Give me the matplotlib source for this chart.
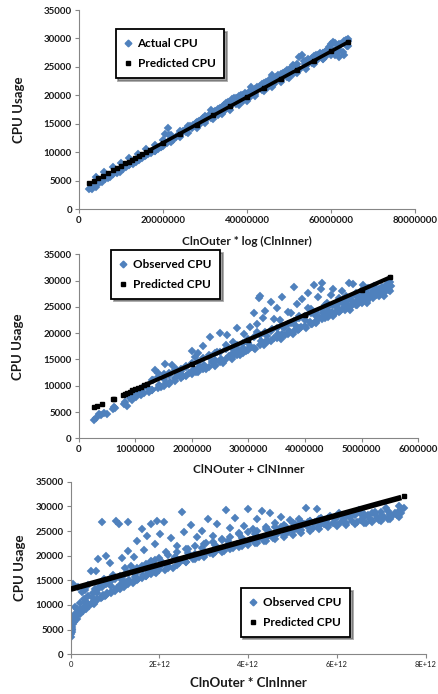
import numpy as np
import matplotlib
matplotlib.use('Agg')
import matplotlib.pyplot as plt

plt.rcParams['font.family'] = ['Lato', 'DejaVu Sans']

# ---- panel 1: CPU vs ClnOuter*log(ClnInner), x in millions ----
obs1X = [2.5, 2.8, 3.2, 3.5, 4.0, 4.5, 5.0, 5.5, 6.2, 6.8, 7.5, 8.2, 9.0, 9.8, 10.5, 11.2, 12.0, 12.8,
         13.5, 14.2, 15.0, 15.8, 16.5, 17.2, 18.0, 18.8, 19.5, 20.0, 20.5, 21.2, 21.5, 22.0, 22.5, 23.0,
         23.6, 24.2, 24.8, 25.5, 26.0, 26.5, 27.2, 27.8, 28.5, 29.0, 29.5, 30.0, 30.5, 31.0, 31.5, 32.0,
         32.5, 33.0, 33.5, 34.0, 34.5, 35.0, 35.5, 36.0, 36.5, 37.0, 37.5, 38.0, 38.5, 39.0, 39.5, 40.0,
         40.5, 41.0, 41.5, 42.0, 42.5, 43.0, 43.5, 44.0, 44.5, 45.0, 45.5, 46.0, 46.5, 47.0, 47.5, 48.0,
         48.5, 49.0, 49.5, 50.0, 50.5, 51.0, 51.5, 52.0, 52.5, 53.0, 53.5, 54.0, 54.5, 55.0, 55.5, 56.0,
         56.5, 57.0, 57.5, 58.0, 58.5, 59.0, 59.5, 60.0, 60.5, 61.0, 61.5, 62.0, 62.5, 63.0, 63.5, 64.0,
         63.8, 62.8, 61.0, 60.0, 58.5, 57.0, 55.5, 54.0, 52.5, 51.0, 49.5, 48.0, 46.5, 45.0, 43.5, 42.0,
         40.5, 39.0, 37.5, 36.0, 34.5, 33.0, 31.5, 30.0, 28.5, 27.0, 25.5, 24.0, 22.5, 21.0, 19.5, 18.0,
         63.0, 62.0, 61.5, 60.5, 59.5, 58.0, 56.0, 53.8, 50.0, 47.0, 44.0, 41.0]
obs1Y = [3500, 3700, 3600, 4000, 3900, 4600, 4800, 4700, 5200, 5500, 5600, 6100, 6300, 6500, 7000, 7400, 7700, 8000,
         8300, 8600, 8900, 9300, 9600, 9800, 10200, 10600, 10900, 11300, 13200, 14200, 13000, 12300, 12500, 12700,
         13000, 13400, 13700, 14000, 14300, 14600, 14800, 15100, 15400, 15700, 16000, 16300, 16200, 16600, 17400, 17000,
         17300, 17600, 17800, 18000, 18300, 18600, 18900, 18800, 19300, 19500, 19600, 19800, 20000, 20100, 20400, 20200,
         20600, 21400, 20900, 21100, 21500, 21700, 21900, 22200, 22400, 22300, 22800, 23500, 23100, 23300, 23600, 23700,
         24000, 24100, 24400, 24500, 24800, 25400, 25100, 25500, 26800, 27100, 26100, 26000, 26300, 26200, 26600, 26900,
         27000, 27000, 27500, 27400, 27600, 28000, 28500, 29000, 29400, 29200, 28100, 28700, 29000, 29500, 29800, 29600,
         28600, 27600, 27000, 27300, 26700, 26300, 25600, 25100, 24400, 23800, 23300, 22700, 22000, 21500, 20900, 20300,
         19600, 19000, 18500, 17900, 17300, 16600, 16000, 15400, 14800, 14200, 13500, 12900, 12200, 11600, 10900, 10400,
         27000, 26800, 27400, 28000, 27800, 26400, 25900, 25500, 24000, 22900, 21700, 20500]
# band of points hugging the fitted line
band1X = [4, 6, 8, 10, 12, 14, 16, 18, 20, 22, 24, 26, 28, 30, 32, 34, 36, 38, 40, 42, 44, 46, 48, 50, 52, 54,
          56, 58, 60, 62, 64]
band1LowY = [4610, 5410, 6220, 7020, 7820, 8630, 9430, 10240, 11040, 11840, 12650, 13450, 14260, 15060, 15860,
             16670, 17470, 18280, 19080, 19880, 20690, 21490, 22300, 23100, 23900, 24710, 25510, 26320, 27120,
             27920, 28730]
band1HighY = [5710, 6510, 7320, 8120, 8920, 9730, 10530, 11340, 12140, 12940, 13750, 14550, 15360, 16160, 16960,
              17770, 18570, 19380, 20180, 20980, 21790, 22590, 23400, 24200, 25000, 25810, 26610, 27420, 28220,
              29020, 29830]
pred1SparseX = [2.5, 3.5, 4.5, 5.6, 6.8, 8.0, 9.0, 10.0, 11.0, 11.8, 12.6, 13.4, 14.2, 15.0, 16.0]
pred1SparseY = [4600, 5000, 5400, 5850, 6330, 6820, 7220, 7620, 8020, 8340, 8670, 8990, 9310, 9630, 10030]
pred1X = [17, 20, 24, 28, 32, 36, 40, 44, 48, 52, 56, 60, 64]
pred1Y = [10430, 11640, 13250, 14860, 16460, 18070, 19680, 21290, 22900, 24500, 26110, 27720, 29330]

# ---- panel 2: CPU vs ClNOuter + ClNInner, x in millions ----
obs2X = [0.27, 0.3, 0.35, 0.4, 0.45, 0.5, 0.6, 0.62, 0.65, 0.8, 0.82, 0.85, 0.9, 0.92, 0.95, 1.0, 1.02, 1.05,
         1.1, 1.12, 1.15, 1.2, 1.25, 1.3, 1.32, 1.35, 1.4, 1.42, 1.45, 1.5, 1.52, 1.55, 1.6, 1.62, 1.65, 1.7,
         1.72, 1.75, 1.8, 1.85, 1.9, 1.95, 2.0, 2.02, 2.05, 2.08, 2.1, 2.15, 2.2, 2.22, 2.25, 2.3, 2.32, 2.35,
         2.4, 2.45, 2.5, 2.52, 2.55, 2.6, 2.62, 2.65, 2.7, 2.72, 2.75, 2.8, 2.82, 2.85, 2.9, 2.92, 2.95, 3.0,
         3.02, 3.05, 3.1, 3.12, 3.15, 3.18, 3.2, 3.22, 3.25, 3.28, 3.3, 3.32, 3.35, 3.4, 3.42, 3.45, 3.5, 3.52,
         3.55, 3.58, 3.6, 3.62, 3.65, 3.7, 3.72, 3.75, 3.78, 3.8, 3.82, 3.85, 3.88, 3.9, 3.92, 3.95, 4.0, 4.02,
         4.05, 4.08, 4.1, 4.12, 4.15, 4.18, 4.2, 4.22, 4.25, 4.28, 4.3, 4.32, 4.35, 4.38, 4.4, 4.42, 4.45, 4.48,
         4.5, 4.52, 4.55, 4.58, 4.6, 4.62, 4.65, 4.68, 4.7, 4.72, 4.75, 4.78, 4.8, 4.82, 4.85, 4.88, 4.9, 4.92,
         4.95, 4.98, 5.0, 5.02, 5.05, 5.08, 5.1, 5.12, 5.15, 5.2, 5.22, 5.25, 5.3, 5.32, 5.35, 5.4, 5.42, 5.45,
         5.48, 5.5, 5.52,
         2.1, 2.4, 2.7, 3.0, 3.3, 3.6, 3.9, 4.2, 4.5, 4.8, 5.1, 5.4, 3.15, 3.45, 3.75, 4.05, 4.35, 4.65, 4.95, 5.25]
obs2Y = [3500, 3800, 4700, 4400, 4900, 4600, 5500, 6000, 5700, 6500, 7000, 6200, 7600, 8000, 7200, 8400, 7800, 9000,
         8200, 9600, 8600, 9800, 8800, 9200, 11000, 13000, 12500, 10200, 9800, 11200, 14200, 10500, 12000, 10800, 14000, 11500,
         13200, 12000, 12800, 11800, 13500, 12400, 16600, 13000, 15500, 12700, 16200, 13600, 17500, 14000, 13200, 15800, 19200, 14500,
         13800, 16500, 20000, 15000, 14400, 17800, 19600, 15600, 15000, 18400, 16200, 21000, 16800, 15800, 17200, 19800, 16600, 18200,
         21200, 17300, 23800, 17000, 20200, 26600, 27000, 18600, 22800, 17800, 24200, 19400, 18600, 26000, 20800, 19000, 24800, 19800,
         22500, 18800, 26800, 21000, 19600, 24000, 20400, 22000, 19800, 28800, 21500, 25600, 20600, 23200, 21200, 26500, 22500, 21000,
         27600, 22200, 24600, 21800, 29200, 23400, 22400, 26800, 23000, 28400, 29600, 23800, 22800, 25800, 24200, 23400, 27200, 24000,
         28400, 23800, 25200, 24600, 26600, 24200, 28000, 25000, 24600, 27000, 25400, 29600, 25000, 26200, 29400, 25800, 27600, 25400,
         26400, 28000, 26000, 29200, 26600, 27400, 26400, 28600, 26800, 27600, 29000, 27200, 28000, 27400, 28800, 27800, 28400, 29400,
         28200, 29700, 28900,
         13400, 14800, 16000, 17000, 18400, 19800, 21000, 22000, 23200, 24400, 25800, 27000, 21800, 22600, 23800, 24800, 25400, 26000, 27000, 28000]
# dense lower band of the cloud
band2X = [1.3, 1.4, 1.5, 1.6, 1.7, 1.8, 1.9, 2.0, 2.1, 2.2, 2.3, 2.4, 2.5, 2.6, 2.7, 2.8, 2.9, 3.0, 3.1, 3.2, 3.3,
          3.4, 3.5, 3.6, 3.7, 3.8, 3.9, 4.0, 4.1, 4.2, 4.3, 4.4, 4.5, 4.6, 4.7, 4.8, 4.9, 5.0, 5.1, 5.2, 5.3, 5.4, 5.5]
band2LowY = [9100, 9500, 10000, 10400, 10900, 11400, 11800, 12200, 12700, 13200, 13600, 14000, 14500, 15000, 15400,
             15900, 16300, 16800, 17200, 17700, 18100, 18600, 19000, 19500, 19900, 20400, 20800, 21300, 21700, 22200,
             22600, 23100, 23500, 24000, 24400, 24900, 25300, 25800, 26200, 26700, 27100, 27600, 28000]
band2HighY = [11000, 11600, 12200, 12400, 13000, 13200, 13800, 14400, 14600, 15200, 15400, 16200, 16400, 17000, 17200,
              17800, 18200, 18800, 19200, 19600, 20200, 20400, 21000, 21400, 21800, 22400, 22800, 23200, 23800, 24000,
              24600, 25000, 25400, 25800, 26200, 26600, 27000, 27200, 27600, 28000, 28400, 28600, 29000]
pred2SparseX = [0.27, 0.33, 0.42, 0.6, 0.62, 0.78, 0.82, 0.86, 0.9, 0.95, 1.0, 1.05, 1.1, 1.15]
pred2SparseY = [5900, 6180, 6600, 7450, 7550, 8300, 8490, 8680, 8870, 9110, 9340, 9580, 9820, 10050]
pred2X = [1.2, 2.0, 3.0, 4.0, 5.0, 5.5]
pred2Y = [10290, 14070, 18790, 23510, 28240, 30600]

# ---- panel 3: CPU vs ClnOuter*ClnInner, x in units of 1E+12 ----
obs3X = [0.0, 0.01, 0.02, 0.03, 0.04, 0.05, 0.06, 0.07, 0.08, 0.1, 0.12, 0.14, 0.16, 0.18, 0.2, 0.22, 0.25, 0.28,
         0.3, 0.32, 0.35, 0.38, 0.4, 0.42, 0.45, 0.48, 0.5, 0.52, 0.55, 0.58, 0.6, 0.62, 0.65, 0.68, 0.7, 0.72,
         0.75, 0.78, 0.8, 0.82, 0.85, 0.88, 0.9, 0.95, 1.0, 1.02, 1.05, 1.08, 1.1, 1.12, 1.15, 1.2, 1.22, 1.25,
         1.28, 1.3, 1.32, 1.35, 1.4, 1.42, 1.45, 1.5, 1.52, 1.55, 1.6, 1.62, 1.65, 1.7, 1.72, 1.75, 1.8, 1.82,
         1.85, 1.9, 1.92, 1.95, 2.0, 2.02, 2.05, 2.1, 2.12, 2.15, 2.2, 2.25, 2.3, 2.35, 2.4, 2.45, 2.5, 2.52,
         2.55, 2.6, 2.65, 2.7, 2.75, 2.8, 2.85, 2.9, 2.95, 3.0, 3.05, 3.1, 3.15, 3.2, 3.25, 3.3, 3.35, 3.4,
         3.45, 3.5, 3.55, 3.6, 3.65, 3.7, 3.75, 3.8, 3.85, 3.9, 3.95, 4.0, 4.05, 4.1, 4.15, 4.2, 4.25, 4.3,
         4.35, 4.4, 4.45, 4.5, 4.55, 4.6, 4.65, 4.7, 4.75, 4.8, 4.85, 4.9, 4.95, 5.0, 5.05, 5.1, 5.15, 5.2,
         5.25, 5.3, 5.35, 5.4, 5.45, 5.5, 5.55, 5.6, 5.65, 5.7, 5.75, 5.8, 5.85, 5.9, 5.95, 6.0, 6.05, 6.1,
         6.15, 6.2, 6.3, 6.35, 6.4, 6.45, 6.5, 6.55, 6.6, 6.65, 6.7, 6.75, 6.8, 6.85, 6.9, 6.95, 7.0, 7.05,
         7.1, 7.15, 7.2, 7.25, 7.3, 7.35, 7.4, 7.45, 7.5,
         0.15, 0.35, 0.6, 0.9, 1.15, 1.45, 1.75, 2.05, 2.35, 2.65, 2.95, 3.25, 3.55, 3.85, 4.15, 4.45, 4.75,
         5.05, 5.35, 5.65, 5.95, 6.25, 6.55, 6.85, 7.15, 0.02, 0.04, 0.09]
obs3Y = [3500, 4200, 5000, 4600, 5600, 6200, 14300, 7000, 6600, 7600, 8000, 7200, 13600, 8600, 8200, 9000, 12600, 8800,
         9400, 13000, 9200, 10000, 14000, 9800, 16800, 10400, 11500, 10200, 13200, 16800, 11000, 19400, 13800, 11400, 26900, 12000,
         15200, 11800, 20000, 12400, 14400, 18600, 12600, 16000, 13000, 27000, 13400, 26500, 15800, 14000, 19600, 13600, 17400, 14600,
         21000, 26800, 15000, 18000, 14400, 19800, 15600, 23000, 15200, 17000, 25500, 16000, 21200, 15800, 24000, 16800, 19000, 26400,
         17200, 22400, 16400, 27000, 17800, 24400, 18400, 26800, 17000, 20800, 18000, 23600, 17600, 19600, 22000, 18600, 28800, 19200,
         24800, 18800, 21400, 26200, 19400, 20400, 23800, 19800, 25000, 20200, 22600, 27400, 20600, 24000, 20800, 26400, 21400, 23200,
         21000, 29200, 22200, 25600, 21600, 27600, 22400, 24600, 22000, 26000, 22800, 29500, 23200, 25400, 22600, 27400, 23600, 29000,
         23000, 25800, 24000, 28600, 23600, 26600, 24400, 25000, 27800, 24200, 25800, 24800, 27200, 25000, 26000, 25400, 27400, 25200,
         26400, 29700, 25800, 27000, 25600, 26800, 29400, 26000, 27600, 26400, 27000, 26200, 28000, 26600, 27400, 26200, 28600, 26800,
         27600, 26600, 27800, 27000, 28400, 26800, 29300, 27200, 27800, 26600, 28200, 27400, 27000, 28400, 27600, 27200, 28000, 27800,
         29700, 27400, 28400, 28000, 28600, 28200, 30100, 28600, 29600,
         9200, 10600, 12400, 13800, 15000, 16200, 17600, 18800, 19800, 20600, 21600, 22200, 23000, 23600, 24400, 25200, 25800,
         26400, 26800, 27200, 27800, 28000, 28400, 28800, 29000, 14000, 5200, 7400]
# dense curved band along the lower edge of the cloud
band3X = [0.1, 0.2, 0.3, 0.4, 0.5, 0.6, 0.7, 0.8, 0.9, 1.0, 1.1, 1.2, 1.3, 1.4, 1.5, 1.6, 1.7, 1.8, 1.9, 2.0, 2.2,
          2.4, 2.6, 2.8, 3.0, 3.2, 3.4, 3.6, 3.8, 4.0, 4.2, 4.4, 4.6, 4.8, 5.0, 5.2, 5.4, 5.6, 5.8, 6.0, 6.2, 6.4,
          6.6, 6.8, 7.0, 7.2, 7.4]
band3LowY = [8200, 9000, 9600, 10200, 10600, 11200, 11600, 12000, 12400, 12800, 13200, 13800, 14200, 14600, 15000,
             15400, 15800, 16200, 16600, 17000, 17600, 18200, 18800, 19400, 19800, 20400, 20800, 21400, 21800, 22200,
             22600, 23000, 23400, 23800, 24200, 24600, 25000, 25400, 25800, 26000, 26200, 26400, 26600, 26800, 27000,
             27400, 27800]
band3HighY = [9500, 10400, 11200, 11800, 12400, 13000, 13600, 14200, 14800, 15200, 15600, 16000, 16400, 17000, 17400,
              18000, 18400, 18800, 19200, 19600, 20200, 20800, 21400, 22000, 22400, 22800, 23400, 23800, 24400, 24800,
              25000, 25400, 25800, 26200, 26600, 26800, 27000, 27400, 27600, 27800, 28000, 28200, 28400, 28600, 28800,
              28200, 29000]
pred3X = [0.0, 1.0, 2.0, 3.0, 4.0, 5.0, 6.0, 7.0, 7.45]
pred3Y = [13200, 15700, 18200, 20700, 23200, 25700, 28200, 30700, 31800]
pred3LastX = [7.52]
pred3LastY = [32100]

blue = '#4F81BD'
axisGray = '#868686'
W, H = 439, 694

fig = plt.figure(figsize=(W / 100, H / 100), dpi=100)


def make_axes(left, top, right, bottom):
    return fig.add_axes([left / W, 1 - bottom / H, (right - left) / W, (bottom - top) / H])


def scatter_obs(ax, xs, ys, ms):
    ax.plot(xs, ys, ls='none', marker='D', ms=ms, color=blue, mec=blue, mew=0.3, zorder=2)


def style_axes(ax, xticks, xticklabels, xfs, xlabel, ylabelX, xlabelpad, xlabelfs):
    ax.set_ylim(0, 35000)
    ax.set_yticks(np.arange(0, 35001, 5000))
    ax.set_xticks(xticks)
    ax.set_xlim(xticks[0], xticks[-1])
    ax.set_xticklabels(xticklabels, fontsize=xfs, fontweight='bold' if xfs > 6 else 'normal')
    for lbl in ax.get_yticklabels():
        lbl.set_fontsize(7)
        lbl.set_fontweight('bold')
    for side in ['top', 'right']:
        ax.spines[side].set_visible(False)
    for side in ['left', 'bottom']:
        ax.spines[side].set_color(axisGray)
        ax.spines[side].set_linewidth(0.8)
    ax.tick_params(direction='out', length=3, width=0.8, color=axisGray, pad=2, labelcolor='#1a1a1a')
    ax.set_xlabel(xlabel, fontsize=xlabelfs, fontweight='bold', labelpad=xlabelpad, color='#1a1a1a')
    ax.set_ylabel('CPU Usage', fontsize=9.5, fontweight='bold', color='#1a1a1a')
    ax.yaxis.set_label_coords(ylabelX, 0.5)


def add_legend(ax, obsLabel, x0, y0):
    handles = [
        plt.Line2D([], [], ls='none', marker='D', ms=3.4, color=blue, mec=blue),
        plt.Line2D([], [], ls='none', marker='s', ms=2.3, color='black'),
    ]
    leg = ax.legend(handles, [obsLabel, 'Predicted CPU'], loc='upper left',
                    bbox_to_anchor=(x0 / W, 1 - y0 / H), bbox_transform=fig.transFigure,
                    borderaxespad=0, frameon=True, fancybox=False, shadow=True,
                    handlelength=0.6, handletextpad=0.5, labelspacing=0.75,
                    borderpad=0.75, prop={'size': 8.5, 'weight': 'bold'})
    leg.get_frame().set_edgecolor('black')
    leg.get_frame().set_linewidth(1.3)


# panel 1
ax1 = make_axes(79, 10, 415, 209)
scatter_obs(ax1, obs1X, obs1Y, 3.8)
scatter_obs(ax1, band1X, band1LowY, 3.8)
scatter_obs(ax1, band1X, band1HighY, 3.8)
ax1.plot(pred1SparseX, pred1SparseY, ls='none', marker='s', ms=2.3, color='black', zorder=3)
ax1.plot(pred1X, pred1Y, color='black', lw=2.6, marker='s', ms=2.3, zorder=3)
style_axes(ax1, [0, 20, 40, 60, 80], ['0', '20000000', '40000000', '60000000', '80000000'], 7,
           'ClnOuter * log (ClnInner)', -0.16, 8, 8.5)
add_legend(ax1, 'Actual CPU', 115.7, 29.3)

# panel 2
ax2 = make_axes(78.7, 254.3, 418.3, 438.3)
scatter_obs(ax2, obs2X, obs2Y, 4.2)
scatter_obs(ax2, band2X, band2LowY, 4.2)
scatter_obs(ax2, band2X, band2HighY, 4.2)
ax2.plot(pred2SparseX, pred2SparseY, ls='none', marker='s', ms=2.3, color='black', zorder=3)
ax2.plot(pred2X, pred2Y, color='black', lw=3.0, marker='s', ms=2.3, zorder=3)
style_axes(ax2, [0, 1, 2, 3, 4, 5, 6],
           ['0', '1000000', '2000000', '3000000', '4000000', '5000000', '6000000'], 7,
           'ClNOuter + ClNInner', -0.16, 7, 8.5)
add_legend(ax2, 'Observed CPU', 111, 250)

# panel 3
ax3 = make_axes(70.7, 481.7, 425.7, 654.3)
scatter_obs(ax3, obs3X, obs3Y, 4.2)
scatter_obs(ax3, band3X, band3LowY, 4.2)
scatter_obs(ax3, band3X, band3HighY, 4.2)
ax3.plot(pred3X, pred3Y, color='black', lw=4.0, solid_capstyle='butt', zorder=3)
ax3.plot(pred3LastX, pred3LastY, ls='none', marker='s', ms=2.6, color='black', zorder=3)
style_axes(ax3, [0, 2, 4, 6, 8], ['0', '2E+12', '4E+12', '6E+12', '8E+12'], 5.5,
           'ClnOuter * ClnInner', -0.125, 6, 9.5)
add_legend(ax3, 'Observed CPU', 240.7, 588)

fig.savefig('out.png', dpi=100)
